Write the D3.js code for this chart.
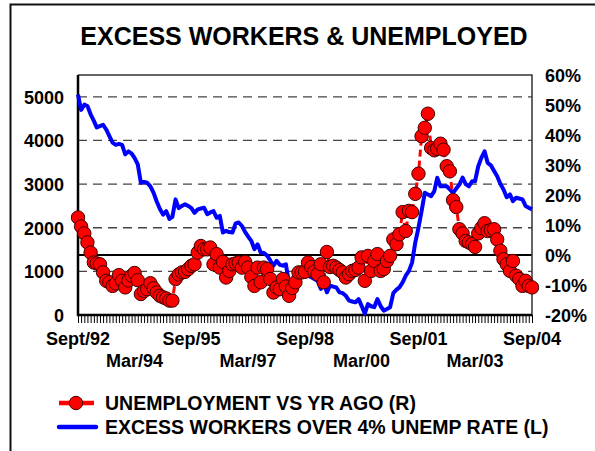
<!DOCTYPE html>
<html>
<head>
<meta charset="utf-8">
<script src="https://cdn.jsdelivr.net/npm/d3@7"></script>
<style>
  body { margin: 0; background: #fff; }
  text { font-family: "Liberation Sans", Arial, sans-serif; font-weight: bold; fill: #000; }
</style>
</head>
<body>
<div id="chart"></div>
<script>
// Données : mensuel, sept 1992 -> sept 2004
const startMonth = new Date(1992, 8, 1);

// excess workers over 4% unemp rate (thousands, left axis)
const excessWorkers = [
  5050, 4700, 4820, 4790, 4600, 4450, 4300, 4330, 4360, 4250, 4100, 3950,
  3900, 3920, 3900, 3680, 3750, 3700, 3600, 3450, 3030, 3050, 3030, 2950,
  2800, 2600, 2430, 2300, 2380, 2200, 2250, 2650, 2450, 2500, 2540, 2500,
  2450, 2340, 2420, 2440, 2460, 2310, 2350, 2380, 2230, 2270, 1890, 1930,
  1900, 1890, 2100, 2120, 2040, 1900, 1800, 1700, 1510, 1620, 1430, 1420,
  1360, 1250, 1130, 1240, 1150, 1130, 1160, 710, 800, 930, 1050, 1030,
  1010, 900, 870, 820, 790, 600, 750, 520, 670, 650, 630, 520,
  500, 440, 330, 310, 290, 365, 210, 30, 250, 200, 180, 365,
  200, 100, 137, 176, 500, 580, 632, 746, 900, 1011, 1200, 1660,
  2000, 2381, 2800, 2760, 2724, 2838, 3144, 2952, 2950, 2950, 2880, 2800,
  2900, 2991, 3150, 3000, 2950, 3066, 3066, 3409, 3600, 3751, 3486, 3430,
  3300, 3180, 3000, 2877, 2700, 2763, 2610, 2687, 2670, 2648, 2500, 2458,
  2420
];

// unemployment vs yr ago (%, right axis)
const unempVsYrAgo = [
  12.5, 9.5, 7.2, 4.2, 0.8, -2.5, -2.8, -3.1, -5.8, -8.6, -9.1, -10.3,
  -9.5, -6.7, -8.6, -10.8, -8.5, -6.9, -6.0, -8.4, -13.0, -12.0, -11.4, -9.4,
  -11.1, -12.5, -13.6, -14.1, -14.5, -15.2, -15.2, -8.0, -6.5, -5.8, -5.6, -4.7,
  -3.6, -3.1, 0.8, 3.0, 1.9, 1.9, 2.5, -3.1, 0.3, -4.2, -2.3, -7.5,
  -5.3, -3.1, -2.8, -2.5, -4.2, -2.3, -4.2, -7.3, -10.3, -4.2, -9.1, -4.2,
  -4.7, -8.0, -12.5, -10.8, -11.4, -8.0, -10.5, -13.6, -11.0, -9.1, -5.8, -5.8,
  -5.6, -2.5, -4.0, -5.5, -6.4, -3.1, -9.1, 1.0, -4.0, -3.6, -4.2, -5.0,
  -5.8, -7.5, -6.4, -5.3, -5.0, -4.2, -0.8, -8.6, -0.3, -5.3, -2.0, 0.3,
  -5.3, -4.7, -2.0, -0.3, 5.2, 3.6, 6.9, 14.3, 8.0, 14.7, 14.3, 20.4,
  27.1, 39.6, 42.4, 47.1, 35.7, 34.9, 35.4, 37.1, 35.1, 29.6, 27.9, 18.3,
  16.0, 8.6, 7.2, 4.7, 4.2, 3.6, 2.7, 7.2, 9.0, 10.6, 8.0, 8.3,
  8.6, 5.2, 1.4, -1.4, -3.1, -5.3, -2.0, -6.9, -8.0, -10.3, -8.6, -10.3,
  -10.8
];

const leftTicks = [0, 1000, 2000, 3000, 4000, 5000];
const rightTicks = [-20, -10, 0, 10, 20, 30, 40, 50, 60];
const xTickDates = [
  new Date(1992, 8, 1), new Date(1994, 2, 1), new Date(1995, 8, 1),
  new Date(1997, 2, 1), new Date(1998, 8, 1), new Date(2000, 2, 1),
  new Date(2001, 8, 1), new Date(2003, 2, 1), new Date(2004, 8, 1)
];
const xTickLabels = ["Sept/92", "Mar/94", "Sep/95", "Mar/97", "Sep/98",
  "Mar/00", "Sep/01", "Mar/03", "Sep/04"];

const title = "EXCESS WORKERS & UNEMPLOYED";
const legendLabels = ["UNEMPLOYMENT VS YR AGO (R)", "EXCESS WORKERS OVER 4% UNEMP RATE (L)"];

// Definition de la taille
const W = 595, H = 451;
const plot = { left: 78, right: 532, top: 75, bottom: 315 };

const months = excessWorkers.map(function (d, i) {
  return d3.timeMonth.offset(startMonth, i);
});
const endMonth = months[months.length - 1];

var svg = d3.select("#chart").append("svg")
  .attr("width", W)
  .attr("height", H);

// cadre extérieur
svg.append("rect")
  .attr("x", 10.5).attr("y", 4.5)
  .attr("width", W + 20).attr("height", H + 20)
  .attr("fill", "none")
  .attr("stroke", "#111")
  .attr("stroke-width", 2);

svg.append("text")
  .attr("x", 304).attr("y", 45)
  .attr("text-anchor", "middle")
  .style("font-size", "25px")
  .text(title);

let x = d3.scaleTime().domain([startMonth, endMonth]).range([plot.left, plot.right]);
let yL = d3.scaleLinear().domain([0, 5500]).range([plot.bottom, plot.top]);
let yR = d3.scaleLinear().domain([-20, 60]).range([plot.bottom, plot.top]);

// grille pointillée
svg.selectAll("grid")
  .data(leftTicks.filter(function (d) { return d > 0; }))
  .enter()
  .append("line")
  .attr("x1", plot.left).attr("x2", plot.right)
  .attr("y1", function (d) { return yL(d); })
  .attr("y2", function (d) { return yL(d); })
  .attr("stroke", "#444")
  .attr("stroke-width", 1.3)
  .attr("stroke-dasharray", "9,6");

// ligne zéro (axe droit)
svg.append("line")
  .attr("x1", plot.left).attr("x2", plot.right)
  .attr("y1", yR(0)).attr("y2", yR(0))
  .attr("stroke", "#000")
  .attr("stroke-width", 2);

// axe gauche
let axisL = d3.axisLeft(yL).tickValues(leftTicks).tickSize(0).tickPadding(14)
  .tickFormat(d3.format("d"));
let gL = svg.append("g").attr("transform", "translate(" + plot.left + ",0)").call(axisL);
gL.select(".domain").remove();
gL.selectAll("text").style("font-size", "18px").attr("dy", "0.35em");

// axe droit
let axisR = d3.axisRight(yR).tickValues(rightTicks).tickSize(0).tickPadding(13)
  .tickFormat(function (d) { return d + "%"; });
let gR = svg.append("g").attr("transform", "translate(" + plot.right + ",0)").call(axisR);
gR.select(".domain").remove();
gR.selectAll("text").style("font-size", "18px").attr("dy", "0.35em");

// petites graduations mensuelles
let axisB = d3.axisBottom(x).tickValues(months).tickSize(8).tickFormat("");
let gB = svg.append("g").attr("transform", "translate(0," + plot.bottom + ")").call(axisB);
gB.select(".domain").remove();
gB.selectAll("line").attr("stroke", "#000").attr("stroke-width", 1);

svg.selectAll("xlabels")
  .data(xTickDates)
  .enter()
  .append("text")
  .attr("x", function (d) { return x(d); })
  .attr("y", function (d, i) { return i % 2 === 0 ? 345 : 367; })
  .attr("text-anchor", "middle")
  .style("font-size", "18px")
  .text(function (d, i) { return xTickLabels[i]; });

// cadre du graphique
svg.append("path")
  .attr("d", "M" + plot.left + "," + plot.top + "H" + plot.right + "V" + plot.bottom)
  .attr("fill", "none").attr("stroke", "#333").attr("stroke-width", 1.5);
svg.append("path")
  .attr("d", "M" + plot.left + "," + plot.top + "V" + plot.bottom + "H" + plot.right)
  .attr("fill", "none").attr("stroke", "#000").attr("stroke-width", 2.5);

// série bleue
let lineL = d3.line()
  .x(function (d, i) { return x(months[i]); })
  .y(function (d) { return yL(d); });
svg.append("path")
  .datum(excessWorkers)
  .attr("d", lineL)
  .attr("fill", "none")
  .attr("stroke", "#0000FF")
  .attr("stroke-width", 4)
  .attr("stroke-linejoin", "round");

// série rouge
let lineR = d3.line()
  .x(function (d, i) { return x(months[i]); })
  .y(function (d) { return yR(d); });
svg.append("path")
  .datum(unempVsYrAgo)
  .attr("d", lineR)
  .attr("fill", "none")
  .attr("stroke", "#FF0000")
  .attr("stroke-width", 3)
  .attr("stroke-dasharray", "7,4");

svg.selectAll("dots")
  .data(unempVsYrAgo)
  .enter()
  .append("circle")
  .attr("cx", function (d, i) { return x(months[i]); })
  .attr("cy", function (d) { return yR(d); })
  .attr("r", 6.7)
  .attr("fill", "#FF0000")
  .attr("stroke", "#400000")
  .attr("stroke-width", 1);

// légende
let lg = svg.append("g");
lg.append("line")
  .attr("x1", 59).attr("x2", 94).attr("y1", 403).attr("y2", 403)
  .attr("stroke", "#FF0000").attr("stroke-width", 4.5);
lg.append("circle")
  .attr("cx", 76).attr("cy", 403).attr("r", 6.7)
  .attr("fill", "#FF0000").attr("stroke", "#400000").attr("stroke-width", 1);
lg.append("line")
  .attr("x1", 59).attr("x2", 96).attr("y1", 427).attr("y2", 427)
  .attr("stroke", "#0000FF").attr("stroke-width", 4.5)
  .attr("stroke-linecap", "round");
lg.selectAll("ltext")
  .data(legendLabels)
  .enter()
  .append("text")
  .attr("x", 105)
  .attr("y", function (d, i) { return 410 + i * 24; })
  .style("font-size", "19.5px")
  .text(function (d) { return d; });
</script>
</body>
</html>
